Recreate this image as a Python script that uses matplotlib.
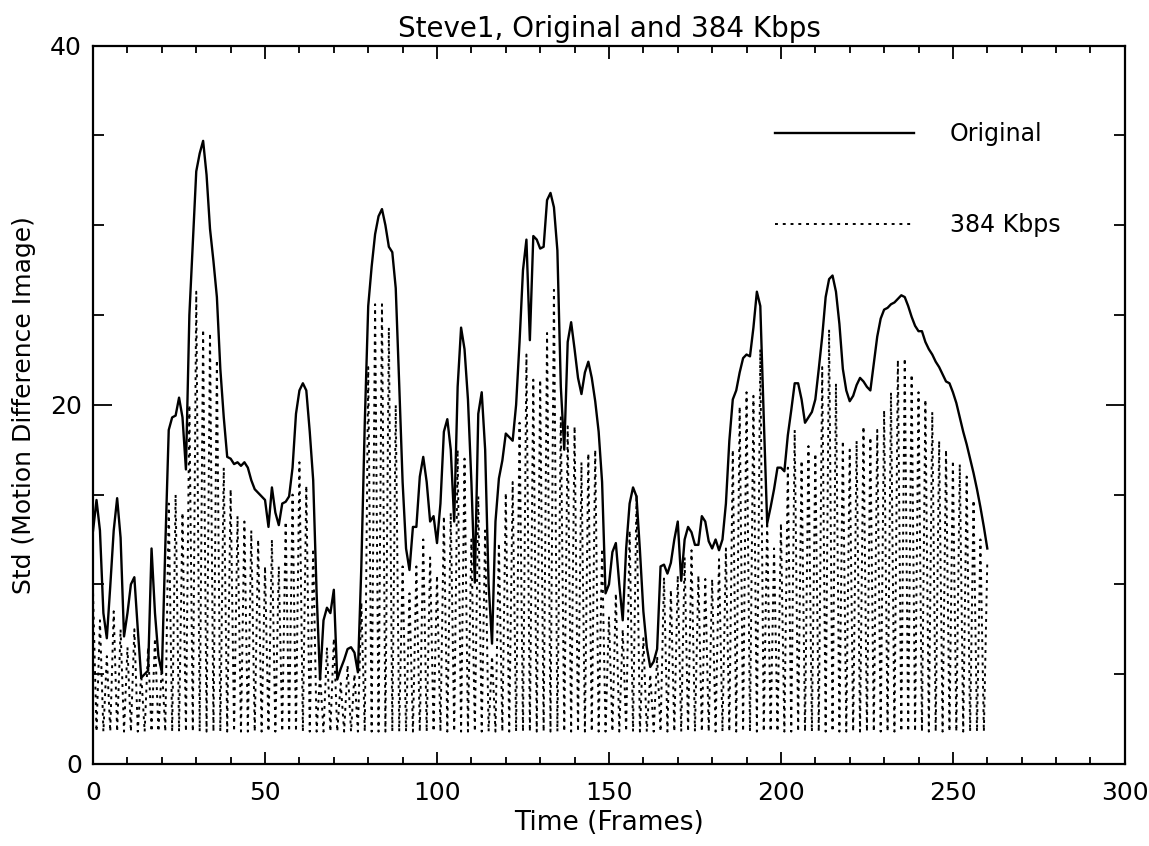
import numpy as np
import matplotlib
matplotlib.use('Agg')
import matplotlib.pyplot as plt
from matplotlib.ticker import MultipleLocator

# std of motion difference image, original sequence, one value per frame (0..260)
original = [
    13.0, 14.7, 13.0, 8.4, 7.0, 9.9, 13.0, 14.8, 12.6, 7.1,
    8.4, 10.0, 10.4, 7.5, 4.8, 5.0, 5.2, 12.0, 8.4, 6.0,
    5.1, 12.1, 18.6, 19.3, 19.4, 20.4, 19.3, 16.4, 25.0, 29.0,
    33.0, 34.0, 34.7, 32.8, 29.8, 28.0, 26.0, 22.0, 19.3, 17.1,
    17.0, 16.7, 16.8, 16.6, 16.8, 16.5, 15.8, 15.3, 15.1, 14.9,
    14.7, 13.2, 15.4, 14.0, 13.3, 14.5, 14.6, 14.9, 16.5, 19.5,
    20.8, 21.2, 20.8, 18.5, 15.8, 9.5, 4.7, 8.0, 8.7, 8.4,
    9.7, 4.7, 5.3, 5.8, 6.4, 6.5, 6.2, 5.1, 11.0, 19.0,
    25.5, 27.7, 29.5, 30.5, 30.9, 30.0, 28.8, 28.5, 26.5, 21.2,
    15.7, 12.0, 10.8, 13.2, 13.2, 16.0, 17.1, 15.7, 13.5, 13.8,
    12.3, 14.5, 18.5, 19.2, 17.5, 13.5, 21.0, 24.3, 23.1, 20.3,
    15.7, 10.1, 19.5, 20.7, 17.5, 10.0, 6.7, 13.5, 15.9, 16.9,
    18.4, 18.2, 18.0, 20.0, 23.5, 27.5, 29.2, 23.6, 29.4, 29.2,
    28.7, 28.8, 31.4, 31.8, 31.0, 28.6, 21.0, 17.5, 23.5, 24.6,
    23.1, 21.5, 20.6, 21.8, 22.4, 21.5, 20.2, 18.5, 15.7, 9.5,
    10.0, 11.8, 12.3, 10.0, 8.0, 12.0, 14.5, 15.4, 14.9, 11.9,
    8.5, 6.5, 5.4, 5.7, 6.4, 11.0, 11.1, 10.6, 11.2, 12.5,
    13.5, 10.2, 12.5, 13.2, 12.9, 12.2, 12.2, 13.8, 13.5, 12.4,
    12.0, 12.5, 11.9, 12.5, 14.5, 18.0, 20.3, 20.8, 21.8, 22.6,
    22.8, 22.7, 24.3, 26.3, 25.5, 19.3, 13.4, 14.3, 15.3, 16.5,
    16.5, 16.3, 18.3, 19.7, 21.2, 21.2, 20.3, 19.0, 19.3, 19.6,
    20.3, 22.0, 23.8, 26.0, 27.0, 27.2, 26.3, 24.5, 22.0, 20.8,
    20.2, 20.5, 21.1, 21.5, 21.3, 21.0, 20.8, 22.3, 23.8, 24.8,
    25.3, 25.4, 25.6, 25.7, 25.9, 26.1, 26.0, 25.5, 24.9, 24.4,
    24.1, 24.1, 23.5, 23.1, 22.8, 22.4, 22.1, 21.7, 21.3, 21.2,
    20.7, 20.1, 19.3, 18.5, 17.8, 17.0, 16.2, 15.3, 14.3, 13.2,
    12.0,
]

# 384 Kbps: even frames reach these values, odd frames sit on the floor
kbps_peaks = [
    9.5, 8.0, 6.0, 8.5, 7.5, 6.5, 7.5, 5.0, 6.5, 7.0,
    5.5, 14.5, 15.0, 14.0, 20.0, 26.3, 24.2, 24.0, 22.5, 16.5,
    15.3, 13.8, 13.5, 13.0, 12.5, 11.0, 12.5, 11.0, 13.5, 15.0,
    16.8, 15.5, 12.0, 5.0, 6.5, 7.0, 4.5, 5.5, 5.0, 9.0,
    22.1, 25.6, 25.6, 24.3, 20.0, 11.0, 9.5, 11.0, 12.5, 11.5,
    10.5, 13.8, 14.0, 17.5, 17.0, 12.5, 14.9, 13.0, 6.0, 12.3,
    15.1, 15.7, 19.0, 22.8, 21.4, 21.4, 24.0, 26.4, 19.3, 18.8,
    18.8, 16.8, 17.3, 17.5, 12.0, 8.2, 9.5, 7.5, 13.0, 15.0,
    7.0, 5.0, 6.0, 10.4, 9.7, 10.5, 11.5, 11.9, 10.5, 10.3,
    10.3, 11.4, 12.0, 17.5, 19.9, 20.7, 20.5, 23.1, 13.5, 12.0,
    13.4, 16.5, 18.6, 16.9, 17.7, 17.3, 22.1, 24.2, 21.2, 18.0,
    17.5, 18.0, 18.8, 18.2, 18.6, 19.7, 20.7, 22.5, 22.6, 21.7,
    20.7, 20.3, 19.6, 18.0, 17.5, 16.9, 16.7, 16.0, 14.7, 12.5,
    11.3,
]
kbps_floor = 1.8

frames = np.arange(len(original))
kbps = np.full(len(original), kbps_floor)
kbps[::2] = kbps_peaks

fs = 18
fig = plt.figure(figsize=(11.49, 8.46), dpi=100)
ax = fig.add_axes([0.081, 0.097, 0.898, 0.849])

ax.plot(frames, original, color='black', lw=1.7, label='Original')
ax.plot(frames, kbps, color='black', lw=1.4, linestyle=(0, (1.5, 2.5)),
        label='384 Kbps')

ax.set_xlim(0, 300)
ax.set_ylim(0, 40)
ax.xaxis.set_major_locator(MultipleLocator(50))
ax.xaxis.set_minor_locator(MultipleLocator(10))
ax.yaxis.set_major_locator(MultipleLocator(20))
ax.yaxis.set_minor_locator(MultipleLocator(5))
ax.tick_params(which='both', direction='in', top=True, right=True,
               labelsize=fs, width=1.3)
ax.tick_params(axis='x', which='major', length=9, pad=12)
ax.tick_params(axis='x', which='minor', length=5)
ax.tick_params(axis='y', which='major', length=14, pad=8)
ax.tick_params(axis='y', which='minor', length=8)
for s in ax.spines.values():
    s.set_linewidth(1.6)

ax.set_title('Steve1, Original and 384 Kbps', fontsize=20, pad=6)
ax.set_xlabel('Time (Frames)', fontsize=19, labelpad=4)
ax.set_ylabel('Std (Motion Difference Image)', fontsize=18, labelpad=10)

ax.legend(loc='upper left', bbox_to_anchor=(0.661, 0.894), frameon=False,
          fontsize=17, handlelength=5.9, handletextpad=1.5, labelspacing=2.85,
          borderpad=0, borderaxespad=0)

fig.savefig('out.png', dpi=100)
